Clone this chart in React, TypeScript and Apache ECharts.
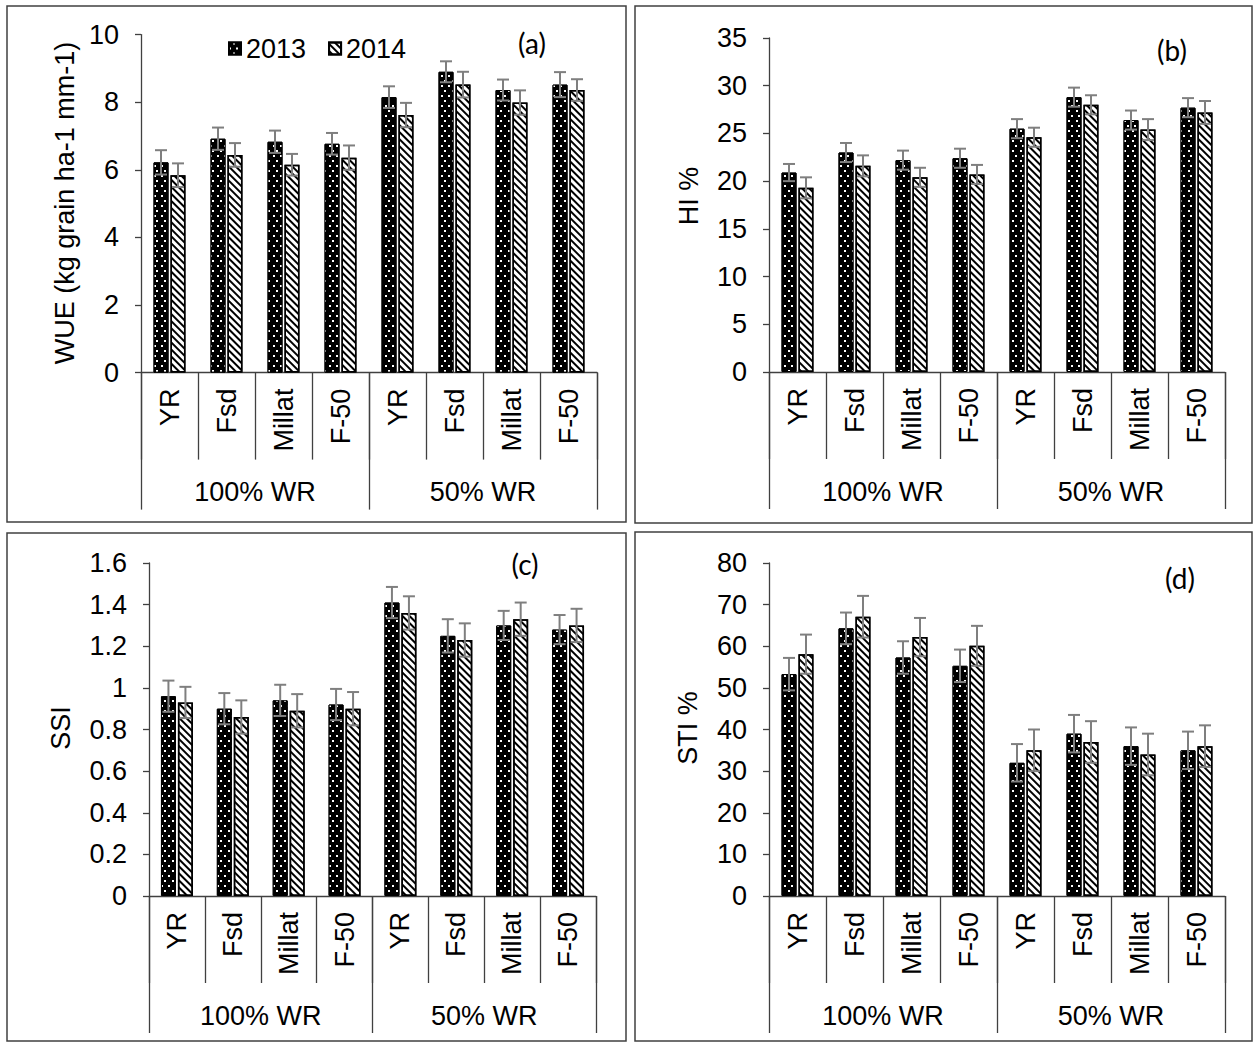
import React, { useEffect, useRef } from "react";
import * as echarts from "echarts";

const categories = ["YR", "Fsd", "Millat", "F-50", "YR", "Fsd", "Millat", "F-50"];
const groups = ["100% WR", "50% WR"];
const years = ["2013", "2014"];

const wue2013 = [6.22, 6.92, 6.83, 6.77, 8.15, 8.9, 8.36, 8.52];
const wue2014 = [5.84, 6.44, 6.15, 6.36, 7.62, 8.52, 7.99, 8.36];
const wueErr2013 = [0.36, 0.33, 0.33, 0.32, 0.32, 0.31, 0.31, 0.37];
const wueErr2014 = [0.35, 0.35, 0.32, 0.36, 0.36, 0.38, 0.36, 0.32];

const hi2013 = [20.9, 23.0, 22.2, 22.4, 25.5, 28.8, 26.4, 27.7];
const hi2014 = [19.3, 21.6, 20.4, 20.7, 24.6, 28.0, 25.4, 27.2];
const hiErr2013 = [0.9, 1.0, 1.0, 1.0, 1.0, 1.0, 1.0, 1.0];
const hiErr2014 = [1.1, 1.1, 1.0, 1.0, 1.0, 1.0, 1.1, 1.2];

const ssi2013 = [0.96, 0.9, 0.94, 0.92, 1.41, 1.25, 1.3, 1.28];
const ssi2014 = [0.93, 0.86, 0.89, 0.9, 1.36, 1.23, 1.33, 1.3];
const ssiErr2013 = [0.075, 0.075, 0.075, 0.075, 0.075, 0.08, 0.07, 0.07];
const ssiErr2014 = [0.075, 0.08, 0.08, 0.08, 0.08, 0.08, 0.08, 0.08];

const sti2013 = [53.3, 64.3, 57.3, 55.3, 32.0, 39.0, 36.0, 35.0];
const sti2014 = [58.1, 67.1, 62.2, 60.1, 35.0, 37.0, 34.0, 36.0];
const stiErr2013 = [3.9, 3.8, 3.9, 3.9, 4.5, 4.5, 4.5, 4.5];
const stiErr2014 = [4.7, 5.0, 4.6, 4.8, 5.0, 5.0, 5.0, 5.0];

const yTitles = ["WUE (kg grain ha-1 mm-1)", "HI %", "SSI", "STI %"];
const panelLetters = ["(a)", "(b)", "(c)", "(d)"];

const FONT = '"Liberation Sans", Arial, sans-serif';
const LINE = "#404040";

const panels = [
  { v13: wue2013, v14: wue2014, e13: wueErr2013, e14: wueErr2014, max: 10, interval: 2,
    grid: { left: 141, top: 34.6, width: 456, height: 338 } },
  { v13: hi2013, v14: hi2014, e13: hiErr2013, e14: hiErr2014, max: 35, interval: 5,
    grid: { left: 769, top: 38, width: 456, height: 334 } },
  { v13: ssi2013, v14: ssi2014, e13: ssiErr2013, e14: ssiErr2014, max: 1.6, interval: 0.2,
    grid: { left: 149, top: 563, width: 447, height: 333 } },
  { v13: sti2013, v14: sti2014, e13: stiErr2013, e14: stiErr2014, max: 80, interval: 10,
    grid: { left: 769, top: 563, width: 456, height: 333 } },
];

const BAR_W = 15;
const OFFSET = 8.5;

function errRender(offset: number) {
  return (params: any, api: any) => {
    const i = api.value(0);
    const v = api.value(1);
    const e = api.value(2);
    const c = api.coord([i, v]);
    const x = c[0] + offset;
    const yTop = api.coord([i, v + e])[1];
    const yBot = api.coord([i, v - e])[1];
    const style = { stroke: "#7f7f7f", lineWidth: 2 };
    return {
      type: "group",
      children: [
        { type: "line", shape: { x1: x, y1: yTop, x2: x, y2: yBot }, style },
        { type: "line", shape: { x1: x - 6, y1: yTop, x2: x + 6, y2: yTop }, style },
        { type: "line", shape: { x1: x - 6, y1: yBot, x2: x + 6, y2: yBot }, style },
      ],
    };
  };
}

const dotDecal = {
  symbol: "rect",
  symbolSize: 1,
  color: "#ffffff",
  dashArrayX: [[2, 5], [0, 3.5, 2, 1.5]],
  dashArrayY: [2, 3],
  rotation: 0,
};

const hatchDecal = {
  symbol: "rect",
  symbolSize: 1,
  color: "#000000",
  dashArrayX: [1, 0],
  dashArrayY: [1.6, 2.6],
  rotation: Math.PI / 4,
};

export default function App() {
  const ref = useRef<HTMLDivElement>(null);
  useEffect(() => {
    if (!ref.current) return;
    const chart = echarts.init(ref.current, undefined, { renderer: "svg" });

    const grids: any[] = [];
    const xAxes: any[] = [];
    const yAxes: any[] = [];
    const series: any[] = [];

    panels.forEach((p, k) => {
      grids.push({ ...p.grid, containLabel: false });
      xAxes.push({
        type: "category",
        gridIndex: k,
        data: categories,
        position: "bottom",
        axisLine: { show: true, lineStyle: { color: LINE, width: 1.3 } },
        axisTick: { show: true, interval: 0, length: 87, lineStyle: { color: LINE, width: 1.3 } },
        axisLabel: {
          interval: 0,
          rotate: 90,
          margin: 16,
          fontSize: 27,
          fontFamily: FONT,
          color: "#000",
        },
      });
      xAxes.push({
        type: "category",
        gridIndex: k,
        data: groups,
        position: "bottom",
        offset: 0,
        axisLine: { show: false },
        axisTick: { show: true, interval: 0, length: 137, lineStyle: { color: LINE, width: 1.3 } },
        axisLabel: { interval: 0, margin: 106, fontSize: 27, fontFamily: FONT, color: "#000" },
      });
      yAxes.push({
        type: "value",
        gridIndex: k,
        min: 0,
        max: p.max,
        interval: p.interval,
        splitLine: { show: false },
        axisLine: { show: true, lineStyle: { color: LINE, width: 1.3 } },
        axisTick: { show: true, length: 6, lineStyle: { color: LINE, width: 1.3 } },
        axisLabel: {
          margin: 22,
          fontSize: 27,
          fontFamily: FONT,
          color: "#000",
          formatter: (v: number) => String(+v.toFixed(1)),
        },
      });
      series.push({
        name: years[0],
        type: "bar",
        xAxisIndex: 2 * k,
        yAxisIndex: k,
        data: p.v13,
        barWidth: BAR_W,
        barGap: "13%",
        itemStyle: { color: "#000", borderColor: "#000", borderWidth: 1, decal: dotDecal },
      });
      series.push({
        name: years[1],
        type: "bar",
        xAxisIndex: 2 * k,
        yAxisIndex: k,
        data: p.v14,
        barWidth: BAR_W,
        barGap: "13%",
        itemStyle: { color: "#fff", borderColor: "#000", borderWidth: 1.5, decal: hatchDecal },
      });
      series.push({
        type: "custom",
        xAxisIndex: 2 * k,
        yAxisIndex: k,
        z: 10,
        renderItem: errRender(-OFFSET),
        encode: { x: 0, y: 1 },
        data: p.v13.map((v, i) => [i, v, p.e13[i]]),
      });
      series.push({
        type: "custom",
        xAxisIndex: 2 * k,
        yAxisIndex: k,
        z: 10,
        renderItem: errRender(OFFSET),
        encode: { x: 0, y: 1 },
        data: p.v14.map((v, i) => [i, v, p.e14[i]]),
      });
    });

    const boxes = [
      [7, 6, 619, 516],
      [635, 6, 617, 517],
      [7, 533, 619, 508],
      [635, 532, 617, 509],
    ];
    const titlePos = [
      [65, 203],
      [689, 196],
      [61, 728],
      [688, 728],
    ];
    const letterPos = [
      [532, 43],
      [1172, 50],
      [525, 564],
      [1180, 578],
    ];

    const graphic: any[] = [];
    boxes.forEach((b) =>
      graphic.push({
        type: "rect",
        shape: { x: b[0], y: b[1], width: b[2], height: b[3] },
        style: { fill: "none", stroke: LINE, lineWidth: 1.5 },
        silent: true,
      })
    );
    yTitles.forEach((t, k) =>
      graphic.push({
        type: "text",
        x: titlePos[k][0],
        y: titlePos[k][1],
        rotation: Math.PI / 2,
        style: {
          text: t,
          fontSize: 27,
          fontFamily: FONT,
          fill: "#000",
          align: "center",
          verticalAlign: "middle",
        },
      })
    );
    panelLetters.forEach((t, k) =>
      graphic.push({
        type: "text",
        x: letterPos[k][0],
        y: letterPos[k][1],
        style: {
          text: t,
          fontSize: 28,
          fontFamily: "Lato, 'Open Sans', sans-serif",
          fill: "#000",
          align: "center",
          verticalAlign: "middle",
        },
      })
    );

    chart.setOption({
      animation: false,
      backgroundColor: "#fff",
      legend: {
        data: years,
        left: 228,
        top: 35,
        padding: 0,
        itemWidth: 12,
        itemHeight: 12,
        itemGap: 22,
        icon: "rect",
        textStyle: { fontSize: 27, fontFamily: FONT, color: "#000" },
      },
      grid: grids,
      xAxis: xAxes,
      yAxis: yAxes,
      series,
      graphic,
    });
    return () => chart.dispose();
  }, []);

  return (
    <div
      ref={ref}
      style={{ position: "fixed", left: 0, top: 0, width: 1253, height: 1044, background: "#fff" }}
    />
  );
}
